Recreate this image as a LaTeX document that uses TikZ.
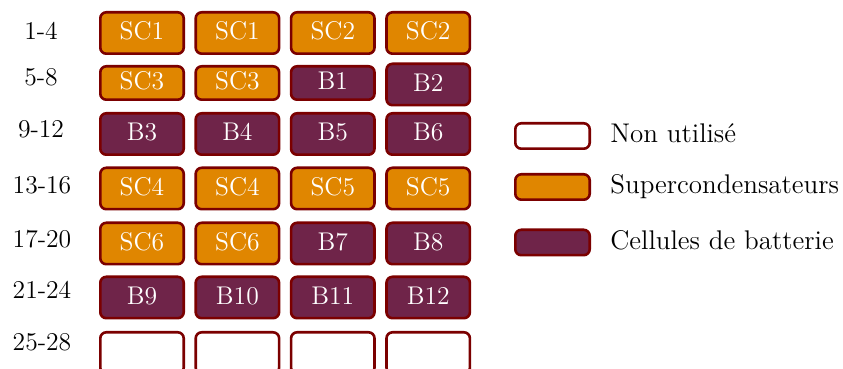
\documentclass[tikz,border=0pt]{standalone}
\usetikzlibrary{positioning}

\definecolor{scorange}{RGB}{224,134,0}
\definecolor{batpurple}{RGB}{111,36,73}
\definecolor{cellborder}{RGB}{123,0,0}

\tikzstyle{cell} = [draw=cellborder, line width=1.3pt, rounded corners=3pt, minimum width=41.7pt, minimum height=20.7pt, inner sep=0pt, text=white, text height=.683em, text depth=0pt, font=\fontsize{12.8}{15}\selectfont]
\tikzstyle{supercap} = [cell, fill=scorange]
\tikzstyle{battery} = [cell, fill=batpurple]
\tikzstyle{unused} = [cell, fill=white]
\tikzstyle{short} = [minimum height=16.7pt]
\tikzstyle{rowlabel} = [inner sep=0pt, text height=.65em, text depth=0pt, font=\fontsize{12.8}{15}\selectfont]
\tikzstyle{legendbox} = [cell, minimum width=37.2pt, minimum height=12.7pt]
\tikzstyle{legendtext} = [anchor=west, inner sep=0pt, text height=.683em, text depth=0pt, font=\fontsize{13.5}{16}\selectfont]

\begin{document}
\begin{tikzpicture}[x=0.5pt, y=-0.5pt, node distance=47.7pt]
\useasboundingbox (0,0) rectangle (843,369);
\clip (0,0) rectangle (843,369);

% Row labels
\node (l1) [rowlabel] at (41,33) {1-4};
\node (l2) [rowlabel] at (41,79) {5-8};
\node (l3) [rowlabel] at (41,131) {9-12};
\node (l4) [rowlabel] at (42,187) {13-16};
\node (l5) [rowlabel] at (42,241) {17-20};
\node (l6) [rowlabel] at (42,292) {21-24};
\node (l7) [rowlabel] at (42,344) {25-28};

% Cells
\node (r1c1) [supercap] at (142,33) {SC1};
\node (r1c2) [supercap, right of=r1c1] {SC1};
\node (r1c3) [supercap, right of=r1c2] {SC2};
\node (r1c4) [supercap, right of=r1c3] {SC2};

\node (r2c1) [supercap, short] at (142,83) {SC3};
\node (r2c2) [supercap, short, right of=r2c1] {SC3};
\node (r2c3) [battery, short, right of=r2c2] {B1};
\node (r2c4) [battery, right of=r2c3, yshift=-0.75pt] {B2};

\node (r3c1) [battery] at (142,134) {B3};
\node (r3c2) [battery, right of=r3c1] {B4};
\node (r3c3) [battery, right of=r3c2] {B5};
\node (r3c4) [battery, right of=r3c3] {B6};

\node (r4c1) [supercap] at (142,188.5) {SC4};
\node (r4c2) [supercap, right of=r4c1] {SC4};
\node (r4c3) [supercap, right of=r4c2] {SC5};
\node (r4c4) [supercap, right of=r4c3] {SC5};

\node (r5c1) [supercap] at (142,243.5) {SC6};
\node (r5c2) [supercap, right of=r5c1] {SC6};
\node (r5c3) [battery, right of=r5c2] {B7};
\node (r5c4) [battery, right of=r5c3] {B8};

\node (r6c1) [battery] at (142,297.5) {B9};
\node (r6c2) [battery, right of=r6c1] {B10};
\node (r6c3) [battery, right of=r6c2] {B11};
\node (r6c4) [battery, right of=r6c3] {B12};

\node (r7c1) [unused] at (142,353) {};
\node (r7c2) [unused, right of=r7c1] {};
\node (r7c3) [unused, right of=r7c2] {};
\node (r7c4) [unused, right of=r7c3] {};

% Legend
\node (leg1) [legendbox, fill=white] at (552.5,136) {};
\node (leg2) [legendbox, fill=scorange] at (552.5,187) {};
\node (leg3) [legendbox, fill=batpurple] at (552.5,242.5) {};
\node (txt1) [legendtext] at (610,136) {Non utilisé};
\node (txt2) [legendtext] at (610,187) {Supercondensateurs};
\node (txt3) [legendtext] at (610,242.5) {Cellules de batterie};

\end{tikzpicture}
\end{document}
